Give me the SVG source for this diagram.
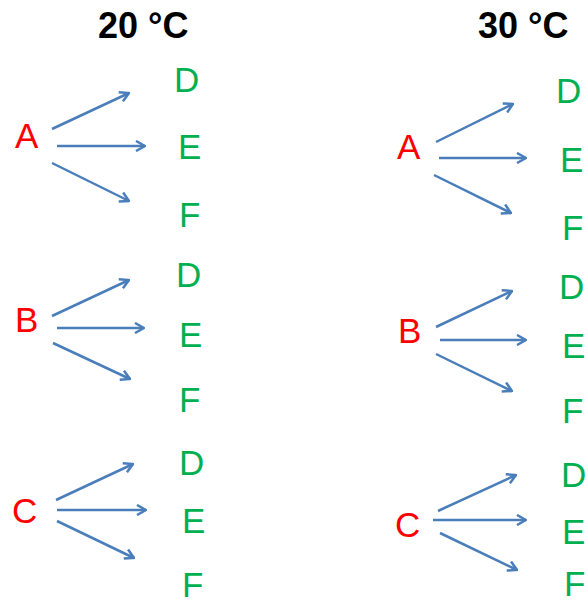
<svg xmlns="http://www.w3.org/2000/svg" width="588" height="603" viewBox="0 0 588 603">
<style>
text{font-family:"Liberation Sans",Arial,sans-serif;font-size:35px}
.t{font-weight:bold;fill:#000;font-size:36px}
.s{fill:#ff0000}
.p{fill:#00b050}
.c line{stroke:#4a7ebb;stroke-width:2.5;marker-end:url(#ah)}
</style>
<defs>
<marker id="ah" viewBox="0 0 12 12" refX="11" refY="6" markerWidth="12" markerHeight="12" markerUnits="userSpaceOnUse" orient="auto">
<path d="M2,1 L11,6 L2,11" fill="none" stroke="#4a7ebb" stroke-width="2.5"/>
</marker>
</defs>
<rect width="588" height="603" fill="#fff"/>
<g id="title20"><text class="t" x="98" y="38">20 °C</text></g>
<g id="title30"><text class="t" x="478" y="38">30 °C</text></g>

<g id="L-A"><text class="s" x="15" y="148">A</text></g>
<g id="L-A-D"><text class="p" x="174" y="92">D</text></g>
<g id="L-A-E"><text class="p" x="178" y="159">E</text></g>
<g id="L-A-F"><text class="p" x="179" y="227">F</text></g>
<g id="L-B"><text class="s" x="15" y="332">B</text></g>
<g id="L-B-D"><text class="p" x="176" y="287">D</text></g>
<g id="L-B-E"><text class="p" x="179" y="347">E</text></g>
<g id="L-B-F"><text class="p" x="179" y="412">F</text></g>
<g id="L-C"><text class="s" x="12" y="523">C</text></g>
<g id="L-C-D"><text class="p" x="179" y="475">D</text></g>
<g id="L-C-E"><text class="p" x="182" y="533">E</text></g>
<g id="L-C-F"><text class="p" x="182" y="597">F</text></g>

<g id="R-A"><text class="s" x="397" y="159">A</text></g>
<g id="R-A-D"><text class="p" x="556" y="103">D</text></g>
<g id="R-A-E"><text class="p" x="560" y="172">E</text></g>
<g id="R-A-F"><text class="p" x="562" y="240">F</text></g>
<g id="R-B"><text class="s" x="398" y="343">B</text></g>
<g id="R-B-D"><text class="p" x="559" y="299">D</text></g>
<g id="R-B-E"><text class="p" x="562" y="358">E</text></g>
<g id="R-B-F"><text class="p" x="562" y="423">F</text></g>
<g id="R-C"><text class="s" x="395" y="537">C</text></g>
<g id="R-C-D"><text class="p" x="561" y="487">D</text></g>
<g id="R-C-E"><text class="p" x="562" y="544">E</text></g>
<g id="R-C-F"><text class="p" x="564" y="596">F</text></g>

<g id="connectors" class="c">
<line x1="52" y1="129" x2="129" y2="93"/>
<line x1="57" y1="146" x2="145" y2="146"/>
<line x1="52" y1="163" x2="129" y2="201"/>
<line x1="52" y1="316" x2="129" y2="280"/>
<line x1="57" y1="328" x2="144" y2="328"/>
<line x1="53" y1="343" x2="130" y2="379"/>
<line x1="56" y1="500" x2="133" y2="464"/>
<line x1="57" y1="510" x2="146" y2="510"/>
<line x1="57" y1="521" x2="134" y2="558"/>
<line x1="436" y1="142" x2="513" y2="104"/>
<line x1="439" y1="158" x2="526" y2="158"/>
<line x1="434" y1="175" x2="511" y2="213"/>
<line x1="436" y1="327" x2="512" y2="291"/>
<line x1="440" y1="340" x2="526" y2="340"/>
<line x1="436" y1="354" x2="512" y2="391"/>
<line x1="438" y1="511" x2="516" y2="475"/>
<line x1="433" y1="520" x2="526" y2="520"/>
<line x1="440" y1="533" x2="517" y2="570"/>
</g>
</svg>
